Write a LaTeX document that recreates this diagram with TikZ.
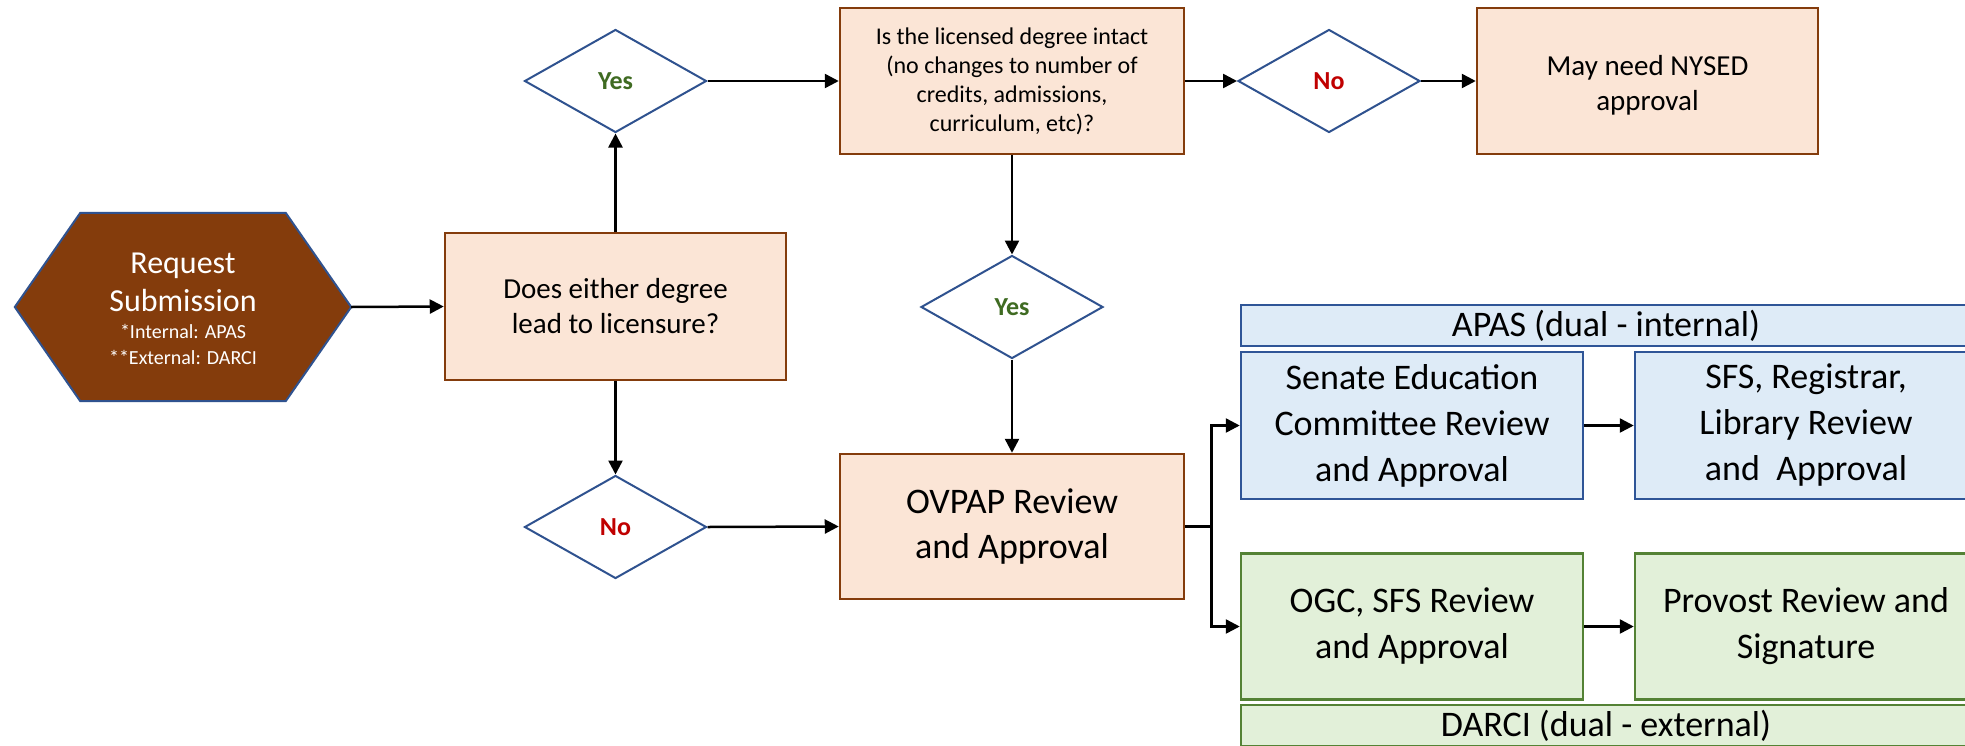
\documentclass[tikz,border=0pt]{standalone}
\usepackage{fontspec}
\setmainfont{Carlito}
\usetikzlibrary{shapes.geometric,arrows.meta,calc}
\definecolor{hexfill}{HTML}{843C0C}
\definecolor{navy}{HTML}{2F528F}
\definecolor{peach}{HTML}{FBE5D6}
\definecolor{brownline}{HTML}{843C0C}
\definecolor{lightblue}{HTML}{DEEBF7}
\definecolor{blueline}{HTML}{2F5597}
\definecolor{lightgreen}{HTML}{E2F0D9}
\definecolor{greenline}{HTML}{548235}
\definecolor{yesgreen}{HTML}{3F6B22}
\definecolor{nored}{HTML}{C00000}
\begin{document}
\begin{tikzpicture}[x=1pt,y=-1pt,
  orangebox/.style={rectangle, draw=brownline, fill=peach, line width=2.5pt, align=center, inner sep=0pt},
  bluebox/.style={rectangle, draw=blueline, fill=lightblue, line width=2.5pt, align=center, inner sep=0pt},
  greenbox/.style={rectangle, draw=greenline, fill=lightgreen, line width=2.5pt, align=center, inner sep=0pt},
  decision/.style={diamond, draw=navy, fill=white, line width=2pt, minimum width=182pt, minimum height=103pt, inner sep=0pt, font=\bfseries\fontsize{26}{30}\selectfont},
  arr/.style={line width=2.5pt, -{Triangle[length=14pt,width=14pt]}},
  ]
\useasboundingbox (0,0) rectangle (1965,745);
\clip (0,0) rectangle (1965,745);
\fill[white] (0,0) rectangle (1965,745);

% hexagon
\node[rectangle, minimum width=336pt, minimum height=188pt, inner sep=0pt] (req) at (183,307) {};
\filldraw[fill=hexfill, draw=navy, line width=2pt]
  (req.west) -- ([xshift=65.5pt]req.north west) -- ([xshift=-65.5pt]req.north east)
  -- (req.east) -- ([xshift=-65.5pt]req.south east) -- ([xshift=65.5pt]req.south west) -- cycle;
\node[text=white, align=center, inner sep=0pt, font=\fontsize{32}{38}\selectfont] (reqtext) at (183,309)
  {Request\\Submission\\[-11pt]
   {\fontsize{20}{26}\selectfont *Internal: APAS}\\[-12pt]
   {\fontsize{20}{26}\selectfont **External: DARCI}};

% orange boxes
\node[orangebox, minimum width=341pt, minimum height=147pt, font=\fontsize{29}{35}\selectfont] (q1) at (615.5,306.5)
  {Does either degree\\lead to licensure?};
\node[orangebox, minimum width=344pt, minimum height=146pt, font=\fontsize{24}{29}\selectfont] (q2) at (1012,81)
  {Is the licensed degree intact\\(no changes to number of\\credits, admissions,\\curriculum, etc)?};
\node[orangebox, minimum width=341pt, minimum height=146pt, font=\fontsize{29}{35}\selectfont, text depth=0pt] (nysed) at (1647.5,81)
  {\raisebox{-4pt}{May need NYSED}\\\raisebox{-4pt}{approval}};
\node[orangebox, minimum width=344pt, minimum height=145pt, font=\fontsize{36}{45}\selectfont] (ovpap) at (1012,526.5)
  {OVPAP Review\\and Approval};

% decisions
\node[decision, text=yesgreen] (d1) at (615.5,81) {Yes};
\node[decision, text=nored] (d2) at (1329,81) {No};
\node[decision, text=yesgreen] (d3) at (1012,307) {Yes};
\node[decision, text=nored] (d4) at (615.5,527) {No};

% blue group
\node[bluebox, minimum width=730pt, minimum height=41pt, font=\fontsize{36}{40}\selectfont] (apas) at (1606,325.5)
  {APAS (dual - internal)};
\node[bluebox, minimum width=342pt, minimum height=147pt, font=\fontsize{36}{46}\selectfont] (senate) at (1412,425.5)
  {\raisebox{-5pt}{Senate Education}\\\raisebox{-5pt}{Committee Review}\\\raisebox{-5pt}{and Approval}};
\node[bluebox, minimum width=342pt, minimum height=147pt, font=\fontsize{36}{46}\selectfont] (sfs) at (1806,425.5)
  {\raisebox{-5pt}{SFS, Registrar,}\\\raisebox{-5pt}{Library Review}\\\raisebox{-5pt}{and~ Approval}};

% green group
\node[greenbox, minimum width=342pt, minimum height=146pt, font=\fontsize{36}{46}\selectfont] (ogc) at (1412,626.5)
  {OGC, SFS Review\\and Approval};
\node[greenbox, minimum width=342pt, minimum height=146pt, font=\fontsize{36}{46}\selectfont] (provost) at (1806,626.5)
  {Provost Review and\\Signature};
\node[greenbox, minimum width=730pt, minimum height=41pt, font=\fontsize{36}{40}\selectfont] (darci) at (1606,725.5)
  {DARCI (dual - external)};

% connectors
\draw[arr] (req.east) -- (q1.west);
\draw[arr] (q1.north) -- (d1.south);
\draw[arr] (d1.east) -- (q2.west);
\draw[arr] (q2.east) -- (d2.west);
\draw[arr] (d2.east) -- (nysed.west);
\draw[arr] (q2.south) -- (d3.north);
\draw[arr] (d3.south) -- (ovpap.north);
\draw[arr] (q1.south) -- (d4.north);
\draw[arr] (d4.east) -- (ovpap.west);
\draw[line width=2.5pt] (ovpap.east) -- ++(26,0) coordinate (br);
\draw[arr] (br) |- (senate.west);
\draw[arr] (br) |- (ogc.west);
\draw[arr] (senate.east) -- (sfs.west);
\draw[arr] (ogc.east) -- (provost.west);
\end{tikzpicture}
\end{document}
